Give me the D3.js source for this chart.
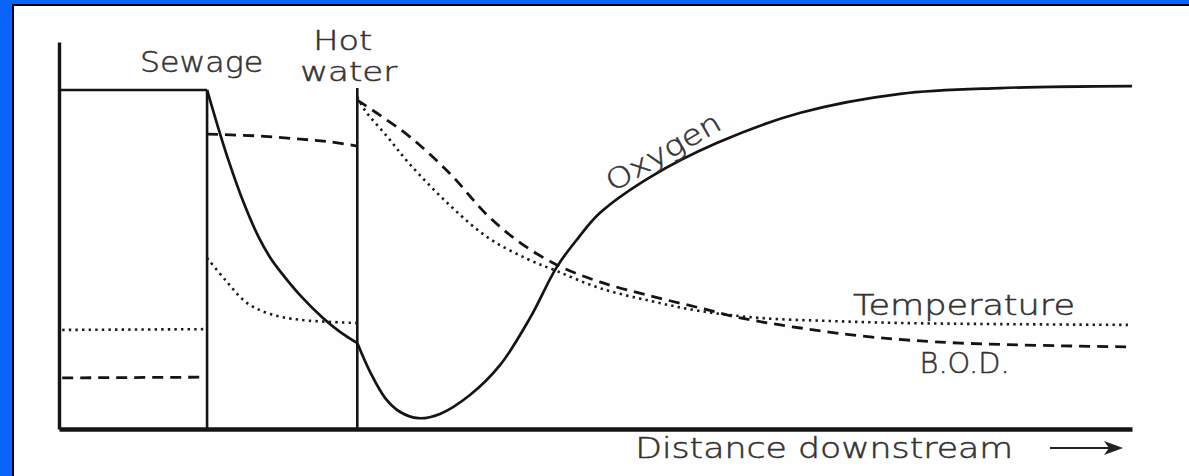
<!DOCTYPE html>
<html>
<head>
<meta charset="utf-8">
<script src="https://cdn.jsdelivr.net/npm/d3@7"></script>
<style>
  html, body { margin: 0; padding: 0; background: #0a63fb; }
  svg { display: block; }
  .label { font-family: "DejaVu Sans", Lato, sans-serif; font-weight: 200; fill: #333; stroke: #333; stroke-width: 0.5; font-size: 28px; }
</style>
</head>
<body>
<svg id="chart" width="1189" height="476"></svg>
<script>
// Distance downstream (0-100) and relative level (0-100) for each reach.
// Reach boundaries: sewage outfall and hot-water outfall.
const outfalls = [
  { name: "Sewage", distance: 13.8, top: 87.6 },
  { name: "Hot water", distance: 27.8, top: 88.1 }
];

// Dissolved oxygen
const oxygenUpstream = [[0, 87.6], [13.8, 87.6]];
const oxygenSewageReach = [
  [13.8, 87.6], [14.7, 79.1], [15.75, 69.8], [17.15, 58.9], [18.55, 49.9],
  [19.66, 44.4], [20.6, 40.8], [22.46, 34.6], [24.6, 28.7], [26.19, 25.1], [27.8, 22.2]
];
const oxygenDownstream = [
  [27.8, 22.2], [29.0, 14.7], [30.4, 8.0], [31.8, 4.4], [33.5, 2.8],
  [35.5, 3.9], [38.3, 8.8], [41.1, 16.5], [43.9, 28.7], [46.4, 41.9],
  [48.4, 49.4], [50.4, 55.8], [55.1, 65.1], [61.3, 73.9], [69.1, 81.7],
  [78.4, 86.6], [87.7, 88.1], [100, 88.6]
];

// Biochemical oxygen demand
const bodUpstream = [[0.3, 13.2], [13.8, 13.4]];
const bodSewageReach = [[13.8, 76.2], [18.7, 75.7], [22.5, 74.9], [25.3, 74.2], [27.8, 73.1]];
const bodDownstream = [
  [27.8, 85.0], [29.9, 81.1], [32.7, 75.5], [36.4, 66.1], [39.9, 55.3],
  [43.0, 48.1], [46.4, 42.4], [50.4, 38.0], [55.1, 34.4], [59.7, 31.3],
  [63.5, 28.7], [69.1, 26.1], [75.6, 23.8], [84.0, 22.2], [100, 21.2]
];

// Water temperature
const temperatureUpstream = [[0.3, 25.6], [13.8, 25.8]];
const temperatureSewageReach = [
  [13.8, 44.2], [15.5, 38.5], [17.5, 32.6], [19.7, 29.7], [22.5, 28.2], [27.8, 27.4]
];
const temperatureDownstream = [
  [27.8, 85.8], [28.5, 82.4], [30.6, 75.5], [32.7, 68.4], [36.2, 58.4],
  [39.9, 49.6], [43.6, 44.0], [46.4, 40.8], [50.4, 36.4], [55.1, 33.1],
  [59.7, 30.5], [65.3, 28.7], [71.9, 27.9], [78.4, 27.4], [87.7, 27.1], [100, 26.9]
];

const svg = d3.select("#chart");
const W = 1189, H = 476;

// Slide frame: blue surround with a thin black edge around the white panel
svg.append("rect").attr("width", W).attr("height", H).attr("fill", "#0a63fb");
svg.append("rect")
  .attr("x", 13).attr("y", 5).attr("width", W).attr("height", H)
  .attr("fill", "#fefefe").attr("stroke", "#000").attr("stroke-width", 2);

const x = d3.scaleLinear().domain([0, 100]).range([59, 1132]);
const y = d3.scaleLinear().domain([0, 100]).range([429, 42]);

const line = d3.line().x(d => x(d[0])).y(d => y(d[1])).curve(d3.curveCatmullRom.alpha(0.5));
const ink = "#141414";

const g = svg.append("g");

// Outfall markers
outfalls.forEach(o => {
  g.append("line")
    .attr("x1", x(o.distance)).attr("x2", x(o.distance))
    .attr("y1", y(0)).attr("y2", y(o.top))
    .attr("stroke", ink).attr("stroke-width", 2.6);
});

// Temperature (dotted)
[temperatureUpstream, temperatureSewageReach, temperatureDownstream].forEach(seg => {
  g.append("path").attr("d", line(seg))
    .attr("fill", "none").attr("stroke", "#1c1c1c").attr("stroke-width", 2.6)
    .attr("stroke-dasharray", "2.4,4.2");
});

// B.O.D. (dashed)
[bodUpstream, bodSewageReach, bodDownstream].forEach(seg => {
  g.append("path").attr("d", line(seg))
    .attr("fill", "none").attr("stroke", ink).attr("stroke-width", 2.8)
    .attr("stroke-dasharray", "11,7");
});

// Oxygen (solid)
[oxygenUpstream, oxygenSewageReach, oxygenDownstream].forEach(seg => {
  g.append("path").attr("d", line(seg))
    .attr("fill", "none").attr("stroke", ink).attr("stroke-width", 2.7)
    .attr("stroke-linejoin", "round");
});

// Axes
const yAxis = d3.axisLeft(y).tickValues([]).tickSizeOuter(0);
const xAxis = d3.axisBottom(x).tickValues([]).tickSizeOuter(0);
const ya = g.append("g").attr("transform", `translate(${x(0)},0)`).call(yAxis);
ya.select(".domain").attr("stroke", ink).attr("stroke-width", 3.4);
const xa = g.append("g").attr("transform", `translate(0,${y(0)})`).call(xAxis);
xa.select(".domain").attr("stroke", ink).attr("stroke-width", 4.5);

// Labels
function label(text, px, py, len, rot, size) {
  const t = svg.append("text").attr("class", "label")
    .attr("x", px).attr("y", py).text(text)
    .attr("textLength", len).attr("lengthAdjust", "spacingAndGlyphs");
  if (rot) t.attr("transform", `rotate(${rot},${px},${py})`);
  if (size) t.style("font-size", size + "px");
  return t;
}
label("Sewage", x(outfalls[0].distance) - 67, y(100) + 30, 123);
label("Hot", x(outfalls[1].distance) - 44, y(100) + 8, 59, 0, 26);
label("water", x(outfalls[1].distance) - 57, y(100) + 39, 97, 0, 26);
label("Oxygen", x(51.6), y(61.2), 128, -30);
label("Temperature", x(74.0), y(29.4), 222);
label("B.O.D.", x(80.2), y(14.5), 90);
label("Distance downstream", x(53.7), y(0) + 29, 378);

// Direction arrow
const ay = y(0) + 19;
svg.append("line").attr("x1", 1050).attr("x2", 1116).attr("y1", ay).attr("y2", ay)
  .attr("stroke", "#222").attr("stroke-width", 2.2);
svg.append("path")
  .attr("d", `M1123,${ay} L1104,${ay - 7} L1109,${ay} L1104,${ay + 7} Z`)
  .attr("fill", "#222");
</script>
</body>
</html>
